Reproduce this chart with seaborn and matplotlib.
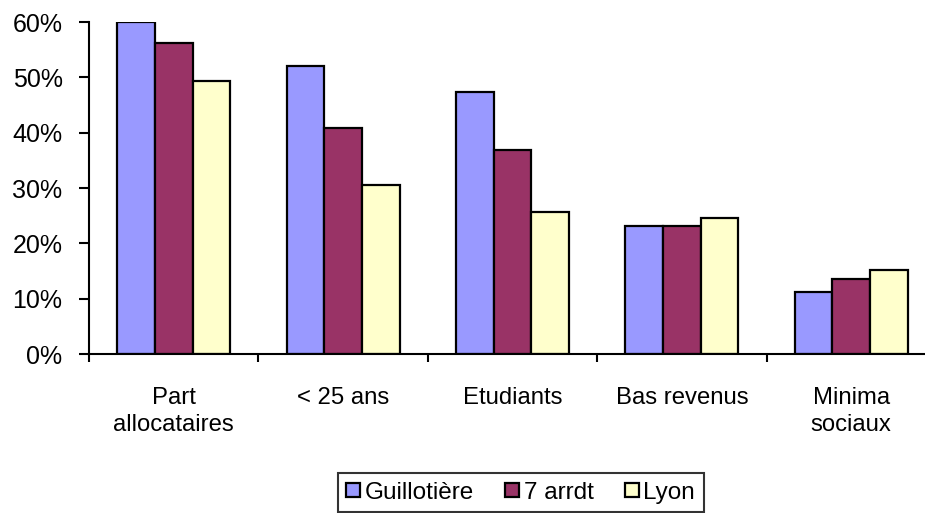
import matplotlib
matplotlib.use("Agg")
import matplotlib.pyplot as plt
import pandas as pd
import seaborn as sns
from matplotlib.ticker import FuncFormatter, FixedLocator

# données
categories = ["Part\nallocataires", "< 25 ans", "Etudiants", "Bas revenus", "Minima\nsociaux"]
series = ["Guillotière", "7 arrdt", "Lyon"]
guillotiere = [0.600, 0.521, 0.473, 0.231, 0.112]
arrdt7 = [0.562, 0.408, 0.368, 0.231, 0.136]
lyon = [0.493, 0.305, 0.256, 0.246, 0.151]
colors = ["#9999FF", "#993366", "#FFFFCC"]

df = pd.DataFrame({
    "categorie": categories * 3,
    "zone": [s for s in series for _ in categories],
    "valeur": guillotiere + arrdt7 + lyon,
})

sns.set_style("white")
plt.rcParams["font.family"] = ["Liberation Sans", "DejaVu Sans"]
plt.rcParams["text.color"] = "black"
plt.rcParams["xtick.color"] = "black"
plt.rcParams["ytick.color"] = "black"

fig = plt.figure(figsize=(9.25, 5.13), dpi=100)
ax = fig.add_axes([89 / 925, 1 - 354 / 513, 847 / 925, 332 / 513])

sns.barplot(data=df, x="categorie", y="valeur", hue="zone", palette=colors,
            saturation=1, width=0.667, edgecolor="black", linewidth=1.6, ax=ax, legend=True)

ax.set_ylim(0, 0.6)
ax.set_xlim(-0.5, 4.5)
ax.set_yticks([0, 0.1, 0.2, 0.3, 0.4, 0.5, 0.6])
ax.yaxis.set_major_formatter(FuncFormatter(lambda v, p: f"{v * 100:.0f}%"))
ax.tick_params(axis="y", labelsize=18, length=7, width=1.5, direction="out", left=True, pad=12)
ax.tick_params(axis="x", which="major", length=0, labelsize=17.2, pad=24)
ax.xaxis.set_minor_locator(FixedLocator([-0.5, 0.5, 1.5, 2.5, 3.5]))
ax.tick_params(axis="x", which="minor", length=6, width=1.5, direction="out", bottom=True)
ax.set_xlabel("")
ax.set_ylabel("")
for lbl in ax.get_xticklabels():
    lbl.set_linespacing(1.3)

for side in ["top", "right"]:
    ax.spines[side].set_visible(False)
for side in ["left", "bottom"]:
    ax.spines[side].set_linewidth(1.5)
    ax.spines[side].set_color("black")

handles, labels = ax.get_legend_handles_labels()
ax.legend_.remove()
leg = fig.legend(handles, labels, loc="upper center", bbox_to_anchor=(0.563, 1 - 473 / 513),
                 ncol=3, frameon=True, fancybox=False, edgecolor="black",
                 fontsize=17.5, handlelength=0.55, handleheight=0.55, handletextpad=0.2,
                 columnspacing=1.3, borderpad=0.35, borderaxespad=0)
leg.get_frame().set_linewidth(1.5)

fig.savefig("out.png", dpi=100)
